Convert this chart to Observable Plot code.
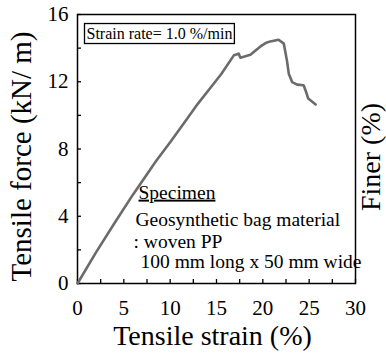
<!DOCTYPE html>
<html><head><meta charset="utf-8">
<script src="https://cdn.jsdelivr.net/npm/d3@7"></script>
<script src="https://cdn.jsdelivr.net/npm/@observablehq/plot@0.6"></script>
<style>
html,body{margin:0;padding:0;background:#fff;}
#chart svg{display:block;}
</style>
</head><body><div id="chart"></div>
<script>
// Tensile strain (%) and tensile force (kN/m)
const strain = [0, 2, 4, 6, 7, 8.5, 10, 11.5, 13, 14.5, 15.5, 16.87, 17.4, 17.58, 18.66, 19.74, 20.3, 20.8, 21.7, 22.26, 22.6, 22.8, 23.16, 23.7, 24.4, 24.67, 24.9, 25.7];
const force  = [0, 1.85, 3.6, 5.3, 6.1, 7.3, 8.4, 9.55, 10.7, 11.75, 12.45, 13.57, 13.67, 13.43, 13.6, 14.1, 14.3, 14.4, 14.5, 14.27, 13.27, 12.48, 11.98, 11.83, 11.79, 11.39, 11.0, 10.65];

const xTickLabels = [0, 5, 10, 15, 20, 25, 30];
const xTickMarks = [0, 2.5, 5, 7.5, 10, 12.5, 15, 17.5, 20, 22.5, 25, 27.5, 30];
const yTickLabels = [0, 4, 8, 12, 16];
const yTickMarks = [0, 2, 4, 6, 8, 10, 12, 14, 16];

const xTitle = "Tensile strain (%)";
const yTitle = "Tensile force (kN/ m)";
const y2Title = "Finer (%)";
const rateNote = "Strain rate= 1.0 %/min";
const specimenHead = "Specimen";
const specimenLines = ["Geosynthetic bag material", ": woven PP", "100 mm long x 50 mm wide"];

const data = strain.map((s, i) => ({strain: s, force: force[i]}));
const FF = "'Liberation Serif', 'Times New Roman', Tinos, serif";
const T = {fontFamily: FF, lineAnchor: "middle"};

const plot = Plot.plot({
  width: 386,
  height: 353,
  marginLeft: 77,
  marginRight: 31,
  marginTop: 14,
  marginBottom: 70,
  style: {background: "white", color: "black", overflow: "visible"},
  x: {domain: [0, 30]},
  y: {domain: [0, 16]},
  marks: [
    Plot.axisX(xTickMarks, {tickSize: 4, insetBottom: 4, text: null, label: null, strokeWidth: 1.3}),
    Plot.axisX(xTickLabels, {tickSize: 0, tickPadding: 17, fontSize: 21, fontFamily: FF, label: null}),
    Plot.axisY(yTickMarks, {tickSize: 4, insetLeft: 4, text: null, label: null, strokeWidth: 1.3}),
    Plot.axisY(yTickLabels, {tickSize: 0, tickPadding: 9, fontSize: 21, fontFamily: FF, label: null}),
    Plot.frame({stroke: "black", strokeWidth: 1.5}),
    Plot.line(data, {x: "strain", y: "force", stroke: "#6b6b6b", strokeWidth: 2.6, curve: "linear"}),
    Plot.text([xTitle], {...T, frameAnchor: "bottom", textAnchor: "middle", dx: -4, dy: 53, fontSize: 28}),
    Plot.text([yTitle], {...T, frameAnchor: "left", textAnchor: "middle", rotate: -90, dx: -56, dy: 7.5, fontSize: 29}),
    Plot.text([y2Title], {...T, frameAnchor: "right", textAnchor: "middle", rotate: -90, dx: 16, dy: 8, fontSize: 28}),
    Plot.text([rateNote], {...T, frameAnchor: "top-left", textAnchor: "start", dx: 9, dy: 19.4, fontSize: 16}),
    Plot.text([specimenHead], {...T, frameAnchor: "top-left", textAnchor: "start", dx: 61, dy: 177.9, fontSize: 19.5}),
    Plot.text([specimenLines[0]], {...T, frameAnchor: "top-left", textAnchor: "start", dx: 58, dy: 204.8, fontSize: 19.5}),
    Plot.text([specimenLines[1]], {...T, frameAnchor: "top-left", textAnchor: "start", dx: 56, dy: 226.8, fontSize: 19.5}),
    Plot.text([specimenLines[2]], {...T, frameAnchor: "top-left", textAnchor: "start", dx: 63, dy: 246.8, fontSize: 19.5})
  ]
});

document.getElementById("chart").appendChild(plot);

// Post-render styling: underline the heading and box the strain-rate note
d3.select(plot).selectAll("text").each(function () {
  const t = this.textContent;
  if (t === specimenHead) {
    this.setAttribute("text-decoration", "underline");
    this.style.textDecoration = "underline";
  }
  if (t === rateNote) {
    const b = this.getBBox();
    const pad = 2;
    const r = document.createElementNS("http://www.w3.org/2000/svg", "rect");
    r.setAttribute("x", b.x - pad);
    r.setAttribute("y", b.y - pad + 0.5);
    r.setAttribute("width", b.width + 2 * pad);
    r.setAttribute("height", b.height + 2 * pad - 1);
    r.setAttribute("fill", "none");
    r.setAttribute("stroke", "black");
    r.setAttribute("stroke-width", "1.3");
    const tr = this.getAttribute("transform");
    if (tr) r.setAttribute("transform", tr);
    this.parentNode.insertBefore(r, this);
  }
});
</script>
</body></html>
